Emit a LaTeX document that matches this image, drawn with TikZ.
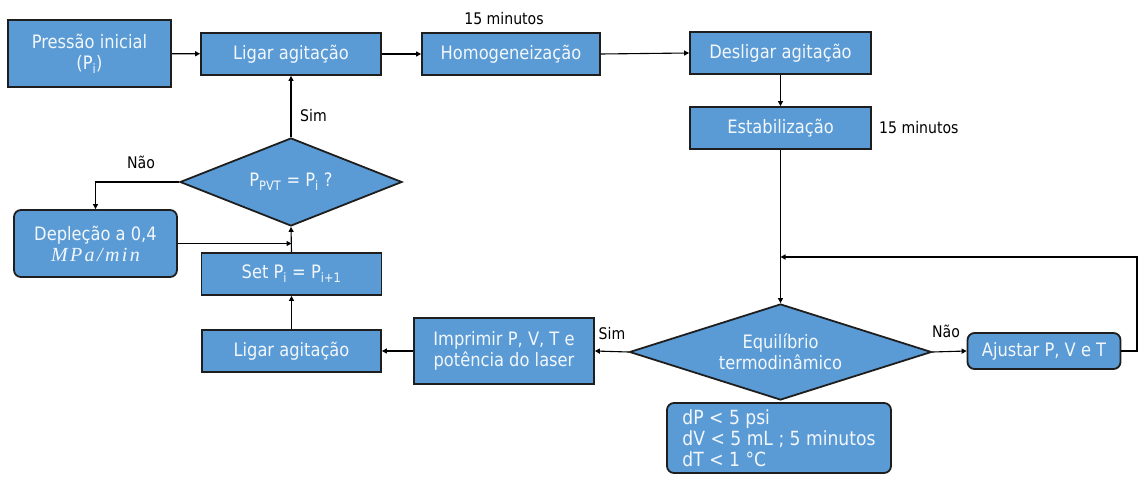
\documentclass[tikz,border=0pt]{standalone}
\usepackage{fontspec}
\setmainfont{DejaVu Sans}[FakeStretch=0.88]
\newfontfamily\mathitfont{Liberation Serif}[LetterSpace=12]
\usetikzlibrary{shapes.geometric,arrows.meta}
\definecolor{boxblue}{HTML}{5B9BD5}
\definecolor{edgec}{HTML}{1E1E1E}
\definecolor{txtc}{HTML}{F2F7FC}
\begin{document}
\begin{tikzpicture}[x=1pt,y=-1pt,
  blk/.style={draw=edgec,line width=1.8pt,fill=boxblue,text=txtc,inner sep=0pt,
    font=\fontsize{18.5}{21}\selectfont,align=center},
  rbox/.style={blk,rounded corners=7pt},
  dec/.style={blk,shape=diamond,aspect=2.5},
  lbl/.style={font=\fontsize{16}{18}\selectfont,inner sep=0pt},
  conn/.style={draw=black,line width=1.1pt,-{Triangle[width=5pt,length=5pt]}}
]
\useasboundingbox (0,0) rectangle (1139,476);
\node[blk,minimum width=163pt,minimum height=67pt] (pi) at (89.5,53.5) {Pressão inicial\\(P\textsubscript{i})};
\node[blk,minimum width=180pt,minimum height=42pt] (lig1) at (291,54) {Ligar agitação};
\node[blk,minimum width=178pt,minimum height=42pt] (hom) at (511,54) {Homogeneização};
\node[blk,minimum width=181pt,minimum height=42pt] (des) at (780.5,53) {Desligar agitação};
\node[blk,minimum width=181pt,minimum height=42pt] (est) at (780.5,128) {Estabilização};
\node[dec,minimum width=302pt,minimum height=96pt] (eq) at (780.5,352) {Equilíbrio\\termodinâmico};
\node[rbox,minimum width=153pt,minimum height=36pt] (aj) at (1044,351) {Ajustar P, V e T};
\node[blk,minimum width=180pt,minimum height=66pt] (imp) at (504,351) {Imprimir P, V, T e\\potência do laser};
\node[blk,minimum width=179pt,minimum height=42pt] (lig2) at (291.5,351) {Ligar agitação};
\node[blk,minimum width=180pt,minimum height=42pt] (set) at (291.5,274) {Set P\textsubscript{i} = P\textsubscript{i+1}};
\node[dec,minimum width=222pt,minimum height=88pt] (dia) at (291,182) {P\textsubscript{PVT} = P\textsubscript{i} ?};
\node[rbox,minimum width=163pt,minimum height=67pt] (dep) at (95.5,243.5) {Depleção a 0,4\\{\mathitfont\itshape\fontsize{20}{21}\selectfont MPa/min}};
\node[rbox,minimum width=224pt,minimum height=70pt,align=left,font=\fontsize{19.5}{21}\selectfont]
  (cond) at (779,438) {dP < 5 psi\\dV < 5 mL ; 5 minutos\\dT < 1 °C};
% labels
\node[lbl] (l15a) at (504,19) {15 minutos};
\node[lbl,anchor=west] (l15b) at (879,128) {15 minutos};
\node[lbl,anchor=west] (lsim1) at (300,116) {Sim};
\node[lbl] (lnao1) at (141,162) {Não};
\node[lbl] (lsim2) at (612,334) {Sim};
\node[lbl] (lnao2) at (946,331) {Não};
% connectors
\coordinate (rt) at (1137,257);
\coordinate (jn) at (780.5,257);
\draw[conn] (pi) -- (lig1);
\draw[conn] (lig1) -- (hom);
\draw[conn] (hom.east) -- (des.west);
\draw[conn] (des) -- (est);
\draw[conn] (est) -- (eq.north);
\draw[conn] (aj.east) -| (rt) -- (jn);
\draw[conn] (eq.east) -- (aj.west);
\draw[conn] (eq.west) -- (imp.east);
\draw[conn] (imp.west) -- (lig2.east);
\draw[conn] (lig2) -- (set);
\draw[conn] (set.north) -- (dia.south);
\draw[conn] (dia.north) -- (lig1.south);
\draw[conn] (dia.west) -| (dep.north);
\draw[conn] (dep.east) -- (dep.east -| set.north);
\end{tikzpicture}
\end{document}
